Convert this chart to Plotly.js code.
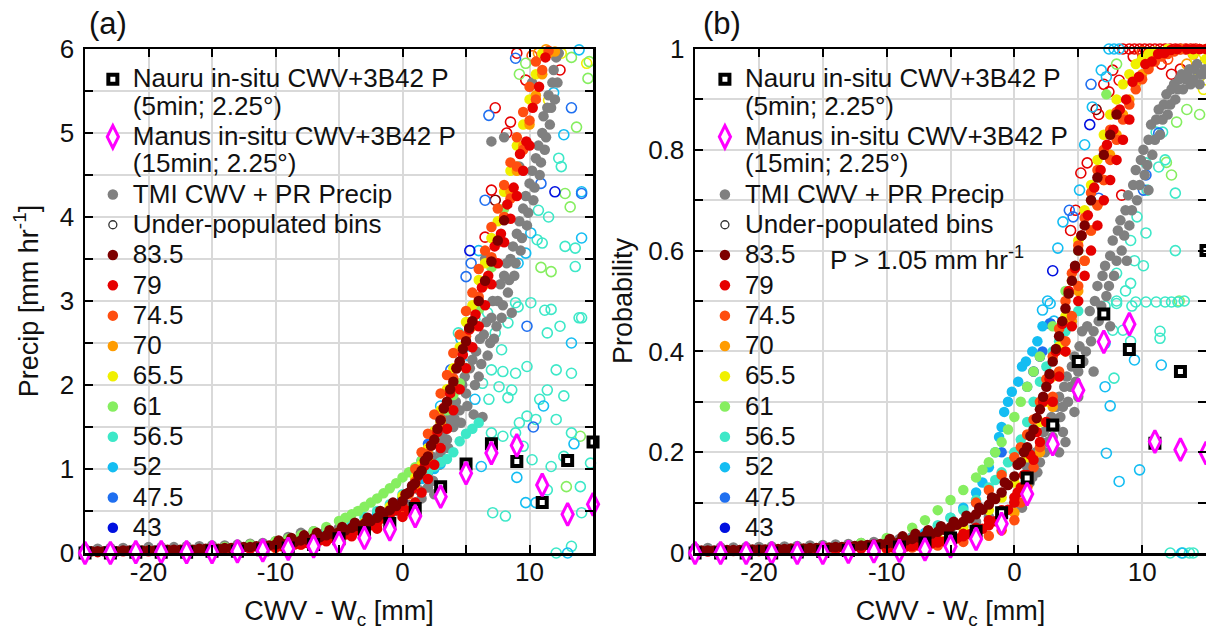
<!DOCTYPE html>
<html><head><meta charset="utf-8">
<script src="https://cdn.plot.ly/plotly-3.0.1.min.js"></script>
<style>html,body{margin:0;padding:0;background:#fff}#chart{width:1206px;height:630px}</style>
</head><body><div id="chart"></div>
<script>
// ---------------- labels ----------------
const binLabels = ['83.5','79','74.5','70','65.5','61','56.5','52','47.5','43'];
const nauruLabel = 'Nauru in-situ CWV+3B42 P';
const nauruSub = '(5min; 2.25°)';
const manusLabel = 'Manus in-situ CWV+3B42 P';
const manusSub = '(15min; 2.25°)';
const tmiLabel = 'TMI CWV + PR Precip';
const underLabel = 'Under-populated bins';
const xTickVals = [-20,-10,0,10];
const xTickText = ['-20','-10','0','10'];
const pTickVals = [0,1,2,3,4,5,6];
const pTickText = ['0','1','2','3','4','5','6'];
const qTickVals = [0,0.2,0.4,0.6,0.8,1];
const qTickText = ['0','0.2','0.4','0.6','0.8','1'];

// ---------------- in-situ (Nauru / Manus) ----------------
const insituX = [-25,-23,-21,-19,-17,-15,-13,-11,-9,-7,-5,-3,-1,1,3,5,7,9,11,13,15];
const nauruPrecip = [0,0,0.01,0.01,0.01,0.02,0.02,0.04,0.06,0.1,0.17,0.24,0.35,0.53,0.79,1.06,1.3,1.09,0.6,1.1,1.32];
const manusPrecip = [0,0,0.01,0.01,0.01,0.01,0.02,0.03,0.05,0.08,0.12,0.18,0.28,0.44,0.67,0.95,1.19,1.28,0.81,0.46,0.58];
const nauruProb = [0,0,0,0,0.002,0.003,0.005,0.008,0.012,0.02,0.03,0.043,0.08,0.149,0.254,0.38,0.474,0.404,0.218,0.36,0.6];
const manusProb = [0,0,0,0,0,0,0.002,0.003,0.004,0.007,0.013,0.028,0.058,0.117,0.216,0.323,0.419,0.454,0.221,0.205,0.198];

// ---------------- bin 83.5 (shared CWV-Wc values) ----------------
const x835 = [-25,-24.5,-24,-23.5,-23,-22.5,-22,-21.5,-21,-20.5,-20,-19.5,-19,-18.5,-18,-17.5,-17,-16.5,-16,-15.5,-15,-14.5,-14,-13.5,-13,-12.5,-12,-11.5,-11,-10.5,-10,
 -9.5,-9,-8.5,-8,-7.5,-7,-6.5,-6,-5.5,-5,-4.5,-4,-3.5,-3,-2.5,-2,-1.5,-1,-0.5,0,
 0.5,1,1.5,2,2.5,3,3.5,4,4.5,5,5.5,6,6.5,7,7.5,8,
 -9.75,-8.75,-7.75,-6.75,-5.75,-4.75,-3.75,-2.75,-1.75,-0.75,0.25,0.75,1.25,1.75,2.25,2.75,3.25,3.75,4.25,4.75,5.25];
const precip835 = [0.02,0.02,0.02,0.02,0.03,0.02,0.03,0.03,0.03,0.03,0.03,0.03,0.03,0.04,0.04,0.04,0.04,0.04,0.05,0.05,0.05,0.05,0.06,0.06,0.06,0.07,0.07,0.08,0.08,0.09,0.1,
 0.11,0.12,0.13,0.15,0.16,0.18,0.19,0.21,0.23,0.25,0.27,0.3,0.32,0.35,0.38,0.42,0.46,0.51,0.56,0.62,
 0.72,0.83,0.98,1.15,1.35,1.58,1.8,2.04,2.28,2.52,2.76,3.0,3.24,3.47,3.72,3.96,
 0.15,0.18,0.21,0.24,0.27,0.31,0.36,0.42,0.5,0.6,0.7,0.8,0.93,1.1,1.28,1.48,1.72,1.95,2.2,2.43,2.68];
const prob835 = [0.005,0.005,0.005,0.005,0.006,0.006,0.006,0.006,0.007,0.007,0.007,0.007,0.008,0.008,0.008,0.009,0.009,0.009,0.01,0.01,0.011,0.011,0.012,0.012,0.013,0.014,0.015,0.016,0.017,0.018,0.019,
 0.02,0.022,0.025,0.028,0.031,0.034,0.038,0.042,0.046,0.051,0.056,0.062,0.069,0.077,0.086,0.096,0.107,0.12,0.135,0.152,
 0.18,0.21,0.245,0.285,0.33,0.38,0.43,0.485,0.54,0.6,0.65,0.7,0.745,0.79,0.83,0.87,
 0.028,0.033,0.038,0.045,0.053,0.062,0.074,0.09,0.11,0.14,0.175,0.2,0.232,0.268,0.31,0.355,0.405,0.46,0.515,0.57,0.63];

// ---------------- panel (a): precip, other bins ----------------
const pX79 = [-25,-24,-23,-22,-21,-20,-19,-18,-17,-16,-15,-14,-13,-12,-11,
 -10,-9.5,-9,-8.5,-8,-7.5,-7,-6.5,-6,-5.5,-5,-4.5,-4,-3.5,-3,-2.5,-2,-1.5,-1,-0.5,0,
 0.25,0.75,1.25,1.75,2.25,2.75,3.25,3.75,4.25,4.75,5.25,5.75,6.25,6.75,7.25,7.75,8.25,8.75,9.25,9.75,10.25,10.75,11.25,
 -8,-6,-4,-3,-2,-1,0,0.5,1,1.5,2,2.5,3,3.5,4,4.5,5,5.5,6,6.5,7,7.5,8,8.5,9,9.5,10];
const pY79 = [0.01,0.01,0.02,0.02,0.02,0.02,0.02,0.03,0.03,0.03,0.03,0.04,0.04,0.05,0.06,
 0.07,0.08,0.09,0.1,0.11,0.12,0.13,0.15,0.16,0.18,0.2,0.22,0.24,0.27,0.3,0.33,0.37,0.41,0.46,0.51,0.56,
 0.7,0.76,0.92,1.04,1.28,1.44,1.73,1.9,2.2,2.36,2.66,2.84,3.16,3.3,3.65,3.8,4.15,4.35,4.75,4.9,5.3,5.55,5.9,
 0.1,0.14,0.2,0.24,0.29,0.35,0.43,0.5,0.6,0.72,0.88,1.05,1.25,1.48,1.7,1.95,2.2,2.45,2.7,2.95,3.2,3.45,3.7,3.98,4.25,4.55,4.85];
const pX745 = [-25,-23,-21,-19,-17,-15,-13,-11,-10,-9,-8,-7,-6,-5,-4,-3,-2,-1,0,
 0.5,1,1.5,2,2.5,3,3.5,4,4.5,5,5.5,6,6.5,7,7.5,8,8.5,9,9.5,10,10.5,11,11.5,
 1,1.5,2,2.5,3,3.5,4,4.5,5,5.5,6,6.5,7,7.5,8,8.5,9,9.5,10,10.5];
const pY745 = [0.01,0.02,0.02,0.02,0.03,0.03,0.04,0.05,0.06,0.08,0.1,0.12,0.15,0.18,0.22,0.27,0.33,0.41,0.52,
 0.7,0.85,0.97,1.18,1.33,1.6,1.78,2.08,2.27,2.58,2.76,3.05,3.24,3.52,3.7,4.0,4.22,4.6,4.8,5.15,5.4,5.75,5.98,
 1.0,1.2,1.42,1.65,1.9,2.12,2.38,2.6,2.88,3.1,3.38,3.6,3.88,4.1,4.38,4.65,4.95,5.25,5.55,5.85];
const pX70 = [-20,-15,-10,-6,-3,0,1,2,3,3.5,4,4.5,5,5.5,6,6.5,7,7.5,8,8.5,9,9.5,10,10.5,11,11.5,12];
const pY70 = [0.03,0.05,0.08,0.16,0.28,0.55,0.78,1.1,1.55,1.75,2.0,2.25,2.5,2.7,3.0,3.2,3.5,3.72,4.0,4.3,4.55,4.85,5.1,5.45,5.7,5.95,5.97];
const pX655 = [-15,-10,-7,-5,-3,-1,0,1,1.5,2,2.5,3,3.5,4,4.5,5,5.5,6,6.5,7,7.5,8,8.5,9,9.5,10,10.5,11];
const pY655 = [0.05,0.1,0.17,0.25,0.36,0.55,0.68,0.9,1.05,1.25,1.45,1.7,1.95,2.2,2.45,2.75,2.95,3.25,3.45,3.75,3.95,4.3,4.55,4.85,5.1,5.4,5.7,5.95];
const pX61 = [-14,-12,-10,-9,-8,-7,-6,-5,-4.5,-4,-3.5,-3,-2.5,-2,-1.5,-1,-0.5,0,0.5,1,1.5,2,2.5,3,3.5,4,4.5,5,6,7,8,9];
const pY61 = [0.07,0.1,0.14,0.17,0.21,0.26,0.31,0.38,0.42,0.46,0.5,0.55,0.6,0.65,0.71,0.77,0.83,0.9,0.96,1.02,1.1,1.22,1.38,1.55,1.7,1.88,2.02,2.2,2.9,3.4,4.1,4.6];
const pX565 = [-8,-6,-4,-3,-2,-1,0,1,2,2.5,3,3.5,4,4.5,5,5.5,6];
const pY565 = [0.16,0.25,0.36,0.43,0.5,0.58,0.7,0.84,0.97,1.03,1.08,1.12,1.2,1.33,1.42,1.48,1.55];
const pX52 = [-6,-4,-2,0,1,1.5,2,2.5,3];
const pY52 = [0.22,0.33,0.48,0.66,0.8,0.88,0.96,1.0,1.06];
const pX475 = [-2,0,1.5,2];
const pY475 = [0.46,0.64,1.1,1.3];
const pX43 = [0,1];
const pY43 = [0.63,0.86];
const pXgray = [-25,-24,-23,-22,-21,-20,-19,-18,-17,-16,-15,-14,-13,-12,-11,-10,-9,-8,-7,-6,-5,-4,-3,-2,-1,
 -0.5,0,0.5,1,1.3,1.5,1.8,2,2.2,2.4,2.6,2.8,3,3.2,3.5,3.7,4,4.2,4.5,4.7,5,5.3,5.6,5.8,
 6,6.3,6.4,6.7,7,7.2,7.5,7.8,8,8.3,8.5,8.6,8.8,9,9.3,9.5,9.8,10,10.3,10.5,
 10.8,11,11.2,11.4,11.6,11.8,12,12.1,7,8,9.2,10.2,6.5,
 2.0,2.3,2.5,2.9,3.1,3.4,3.6,3.9,4.1,4.4,4.6,4.9,5.1,5.5,5.7,6.1,6.2,6.6,6.9,7.1,7.4,
 7.7,7.9,8.2,8.4,8.7,8.9,9.2,9.4,9.7,9.9,10.2,10.4,10.7,10.9,11.1,11.3,11.5,11.7,11.9,12.2,12.3];
const pYgray = [0.05,0.05,0.06,0.06,0.06,0.07,0.07,0.07,0.08,0.08,0.09,0.09,0.1,0.11,0.12,0.14,0.19,0.24,0.26,0.28,0.3,0.33,0.37,0.42,0.46,
 0.5,0.52,0.57,0.6,0.75,0.65,0.9,0.78,1.0,0.86,1.1,1.3,1.2,1.45,1.35,1.6,1.5,1.8,1.7,2.0,1.9,2.2,1.65,2.4,
 2.1,1.62,2.6,2.35,2.8,2.55,3.0,2.8,3.3,3.1,3.5,2.86,3.3,3.8,3.6,4.1,3.9,4.4,4.2,4.7,
 4.5,5.0,4.8,5.3,5.1,5.6,5.4,5.9,4.9,4.95,4.6,5.6,3.5,
 0.95,1.15,0.7,1.05,1.35,1.55,1.25,1.7,1.6,1.95,1.55,2.1,1.75,2.3,2.0,2.55,2.25,2.75,2.5,3.0,2.7,
 3.2,2.95,3.45,3.25,3.65,3.45,3.95,3.75,4.25,4.05,4.55,4.35,4.85,4.65,5.2,4.95,5.45,5.3,5.75,5.6,5.95];
// under-populated bins, panel (a)
const hpX835 = [7.3];
const hpY835 = [4.2];
const hpX79 = [9.7,7.3,8.5,12.4,7.0,6.5,8.2,9.0];
const hpY79 = [5.63,5.3,5.13,5.75,4.32,3.76,5.0,5.95];
const hpX745 = [10.2];
const hpY745 = [5.92];
const hpX70 = [11.3,10.7];
const hpY70 = [5.99,5.95];
const hpX655 = [14.5,11.5,12.5];
const hpY655 = [5.83,5.39,5.95];
const hpX61 = [14.0,12.9,9.7,13.3,14.6,13.7,13.2,12.8,11.7,10.9,14.7,9.2];
const hpY61 = [1.39,0.79,5.83,5.9,5.65,5.07,4.12,4.28,3.35,3.4,5.85,5.7];
const hpX565 = [4.4,5.7,6.7,7.3,8.3,8.9,11.7,12.4,14.1,11.4,7.8,7.0,7.9,8.9,9.8,6.3,7.6,8.6,6.8,8.3,
 10.8,12.1,13.3,12.7,9.8,9.2,10.5,11.4,7.0,7.9,8.9,9.5,12.1,13.3,12.7,11.7,10.2,14.8,7.1,8.1,
 14.0,12.1,13.3,14.1,11.4,12.3,12.5,10.7,11.5,10.6,11.0,12.8,13.6,13.6,10.1,9.1,11.2,13.9];
const hpY565 = [2.62,2.78,2.86,2.62,2.74,2.98,2.9,2.7,2.8,2.62,2.42,2.18,2.16,2.14,2.22,2.02,1.98,1.94,1.83,1.85,
 1.83,2.18,2.14,1.87,1.63,1.55,1.59,1.94,1.43,1.39,1.43,1.27,1.59,1.43,1.15,1.03,1.11,1.07,0.48,0.44,
 0.79,0.0,0.08,0.48,0.75,4.7,4.6,4.08,4.0,3.73,3.69,3.65,3.63,3.41,2.98,2.93,2.89,2.8];
const hpX52 = [3.0,2.9,5.7,6.2,9.7,13.3,11.1,13.0,13.9,11.9,12.7,14.1,10.1,9.7,14.1,9.1,4.6,5.2,6.0,9.0,10.5,13.5];
const hpY52 = [1.75,1.63,1.83,1.03,0.6,2.5,1.75,0.0,5.99,5.48,4.98,4.3,3.81,3.57,3.75,3.45,2.55,2.35,3.6,0.9,0.6,1.3];
const hpX475 = [9.8,10.3,3.8,8.9,6.8,13.3,6.5,10.9,5.4,5.0,14.1,3.5,2.7];
const hpY475 = [2.7,1.5,2.18,5.89,5.21,5.3,4.2,4.4,3.45,3.29,4.28,1.7,1.45];
const hpX43 = [5.3,12.0];
const hpY43 = [3.6,4.3];

// ---------------- panel (b): probability, other bins ----------------
const qX79 = [-25,-24,-23,-22,-21,-20,-19,-18,-17,-16,-15,-14,-13,-12,-11,
 -10,-9.5,-9,-8.5,-8,-7.5,-7,-6.5,-6,-5.5,-5,-4.5,-4,-3.5,-3,-2.5,-2,-1.5,-1,-0.5,0,
 0.25,0.75,1.25,1.75,2.25,2.75,3.25,3.75,4.25,4.75,5.25,5.75,6.25,6.75,7.25,7.75,8.25,8.75,9.25,9.75,10.25,10.75,11.25,11.75,12.25,12.75,
 13.5,14,14.5,15,
 -6,-5,-4,-3,-2,-1,0,0.5,1,1.5,2,2.5,3,3.5,4,4.5,5,5.5,6,6.5,7,7.5,8,8.5,9];
const qY79 = [0.003,0.003,0.003,0.004,0.004,0.004,0.005,0.005,0.005,0.006,0.006,0.007,0.008,0.009,0.01,
 0.01,0.011,0.012,0.013,0.014,0.015,0.017,0.019,0.021,0.023,0.026,0.029,0.033,0.037,0.042,0.048,0.055,0.063,0.073,0.086,0.1,
 0.12,0.155,0.195,0.24,0.3,0.345,0.4,0.455,0.52,0.565,0.63,0.67,0.725,0.76,0.81,0.84,0.88,0.9,0.935,0.945,0.97,0.975,0.99,0.992,0.998,1.0,
 1,1,1,1,
 0.025,0.03,0.038,0.05,0.065,0.085,0.11,0.13,0.155,0.185,0.22,0.26,0.3,0.35,0.4,0.45,0.5,0.55,0.6,0.65,0.7,0.74,0.78,0.82,0.86];
const qX745 = [-25,-23,-21,-19,-17,-15,-13,-11,-10,-9,-8,-7,-6,-5,-4,-3,-2,-1,0,
 0.5,1,1.5,2,2.5,3,3.5,4,4.5,5,5.5,6,6.5,7,7.5,8,8.5,9,9.5,10,10.5,11,11.5,12,12.5,13,13.5,14,14.5,
 -3,-2,-1,0,0.5,1,1.5,2,2.5,3,3.5,4,4.5,5,5.5,6,6.5,7,7.5,8];
const qY745 = [0.003,0.004,0.004,0.005,0.006,0.007,0.008,0.01,0.008,0.009,0.011,0.013,0.015,0.018,0.022,0.027,0.034,0.045,0.065,
 0.1,0.13,0.17,0.21,0.26,0.31,0.36,0.42,0.47,0.53,0.58,0.64,0.69,0.74,0.78,0.82,0.86,0.89,0.92,0.94,0.96,0.975,0.985,0.99,0.995,1,1,1,1,
 0.1,0.125,0.155,0.19,0.21,0.235,0.265,0.3,0.345,0.39,0.445,0.5,0.555,0.61,0.665,0.715,0.76,0.8,0.84,0.875];
const qX70 = [-20,-15,-10,-6,-3,-1,0,1,2,3,4,4.5,5,5.5,6,6.5,7,7.5,8,8.5,9,9.5,10,10.5,11,11.5,12,12.5,13,13.5,14,14.5,15];
const qY70 = [0.004,0.006,0.01,0.02,0.035,0.06,0.08,0.13,0.2,0.29,0.4,0.46,0.52,0.58,0.64,0.69,0.74,0.79,0.83,0.87,0.9,0.93,0.95,0.965,0.978,0.988,0.994,0.997,1,1,1,1,1];
const qX655 = [-15,-10,-6,-4,-2,-1,0,1,2,2.5,3,3.5,4,4.5,5,5.5,6,6.5,7,7.5,8,8.5,9,9.5,10,10.5,11,12,13,14,15];
const qY655 = [0.006,0.012,0.03,0.05,0.085,0.11,0.14,0.19,0.26,0.3,0.35,0.41,0.47,0.54,0.62,0.68,0.73,0.78,0.83,0.87,0.9,0.93,0.95,0.97,0.98,0.99,0.995,1,1,0.99,0.98];
const qX61 = [-12,-10,-8,-7,-6,-5,-4,-3,-2.5,-2,-1.5,-1,-0.5,0,0.5,1,1.5,2,3,4,5,6,7.2];
const qY61 = [0.02,0.03,0.05,0.065,0.085,0.105,0.125,0.15,0.165,0.18,0.2,0.22,0.245,0.27,0.3,0.33,0.36,0.39,0.45,0.52,0.6,0.7,0.91];
const qX565 = [-10,-8,-6,-5,-4,-3,-2,-1.5,-1,-0.5,0,0.5,1,1.5,2,2.5,3,3.5,4,4.5,5];
const qY565 = [0.015,0.03,0.055,0.07,0.085,0.105,0.13,0.145,0.16,0.18,0.2,0.225,0.26,0.3,0.34,0.37,0.4,0.42,0.44,0.46,0.48];
const qX52 = [-7,-5,-4,-3,-2.5,-2,-1.5,-1.2,-1,-0.8,-0.5,-0.2,0.3,0.6,0.9,1.4,1.8,2.2];
const qY52 = [0.04,0.07,0.09,0.12,0.14,0.17,0.2,0.23,0.25,0.28,0.3,0.32,0.34,0.37,0.38,0.4,0.42,0.45];
const qX475 = [-3,-1,1,2.2,2.8];
const qY475 = [0.1,0.2,0.33,0.4,0.455];
const qX43 = [1.5,2.0];
const qY43 = [0.36,0.39];
const qXgray = [-25,-24,-23,-22,-21,-20,-19,-18,-17,-16,-15,-14,-13,-12,-11,-10,
 -9,-8,-7,-6,-5,-4,-3,-2,-1,0,
 -0.3,0.3,0.9,0.6,
 1.2,1.5,1.8,2.1,2.4,2.7,3.0,3.3,3.6,3.9,
 4.2,4.5,4.8,5.1,5.4,5.7,6.0,6.3,6.6,6.9,
 7.2,7.5,7.8,8.1,8.4,8.7,9.0,9.3,9.6,9.9,
 10.2,10.5,10.8,11.1,11.4,11.7,12.0,12.3,12.6,12.9,
 13.2,13.5,13.8,14.1,14.5,14.8,
 3.5,4.0,4.7,3.8,5.0,6.2,7.5,8.8,10.5,
 1.0,1.4,1.7,2.0,2.3,2.6,2.9,3.2,3.5,3.8,4.1,4.4,4.7,5.0,5.3,5.6,5.9,6.2,6.5,6.8,7.1,7.4,7.7,8.0,
 8.3,8.6,8.9,9.2,9.5,9.8,10.1,10.4,10.7,11.0,11.3,11.6,11.9,12.2,12.5,12.8,13.1,13.4,13.7,14.0,14.3,14.6,14.9];
const qYgray = [0.01,0.01,0.011,0.011,0.012,0.012,0.013,0.013,0.014,0.015,0.016,0.017,0.018,0.02,0.022,0.025,
 0.028,0.032,0.036,0.041,0.047,0.054,0.062,0.072,0.085,0.1,
 0.085,0.1,0.12,0.09,
 0.14,0.18,0.16,0.22,0.2,0.25,0.23,0.29,0.27,0.33,
 0.3,0.37,0.34,0.41,0.38,0.45,0.42,0.5,0.46,0.55,
 0.51,0.59,0.55,0.64,0.6,0.68,0.65,0.73,0.7,0.78,
 0.75,0.82,0.79,0.86,0.83,0.89,0.87,0.92,0.9,0.94,
 0.92,0.95,0.93,0.96,0.93,0.95,
 0.2,0.22,0.28,0.24,0.31,0.36,0.45,0.58,0.72,
 0.17,0.15,0.2,0.18,0.24,0.22,0.27,0.25,0.31,0.29,0.35,0.33,0.39,0.36,0.44,0.4,0.48,0.44,0.53,0.49,0.57,0.53,0.62,0.58,
 0.66,0.63,0.71,0.68,0.76,0.73,0.8,0.77,0.85,0.82,0.88,0.86,0.91,0.89,0.93,0.92,0.95,0.94,0.96,0.94,0.97,0.95,0.96];
// under-populated bins, panel (b)
const hqX835 = [6.4];
const hqY835 = [0.88];
const hqX79 = [8.5,9,9.4,9.8,10.2,10.6,11,11.4,11.8,12.2,12.6,13,13.4,13.8,14.2,
 7.7,8.2,7.4,5.7,5.2,4.8,4.4,8.4,7.0,6.6,11.5,12.3,13.0,9.3,10.5];
const hqY79 = [1,1,1,1,1,1,1,1,1,1,1,1,1,1,1,
 0.958,0.938,0.915,0.774,0.754,0.68,0.64,0.71,0.93,0.87,0.97,0.95,0.96,0.985,0.99];
const hqX745 = [10.0,12.0];
const hqY745 = [0.995,0.98];
const hqX70 = [13.5,14.0];
const hqY70 = [0.97,0.99];
const hqX655 = [14.5,14.2,14.8];
const hqY655 = [0.945,0.98,0.92];
const hqX61 = [12.7,11.9,12.3,12.9,8.0,13.5,14.5];
const hqY61 = [0.855,0.775,0.75,0.5,0.97,0.88,0.87];
const hqX565 = [11.1,11.6,10.3,11.3,11.8,12.6,10.4,9.6,10.3,9.1,9.4,10.1,8.0,9.1,8.7,11.1,11.8,12.3,12.8,10.3,
 9.5,8.0,12.6,7.1,8.0,9.2,11.4,11.4,7.8,8.5,9.1,7.7,12.2,13.2,13.7,14.0,13.3];
const hqY565 = [0.835,0.835,0.774,0.766,0.78,0.714,0.72,0.667,0.635,0.62,0.58,0.57,0.555,0.535,0.52,0.498,0.498,0.498,0.498,0.498,
 0.498,0.5,0.6,0.49,0.495,0.49,0.44,0.426,0.347,0.442,0.42,0.442,0,0,0,0,0.5];
const hqX52 = [7.4,7.8,8.2,6.8,7.2,6.1,5.5,5.1,3.8,3.4,2.6,2.2,2.8,3.1,11.5,7.1,7.5,7.2,8.2,9.8,9.4,7.1,13.1];
const hqY52 = [1,1,1,0.958,0.945,0.885,0.81,0.72,0.657,0.605,0.5,0.482,0.495,0.46,0.373,0.33,0.292,0.198,0.142,0.165,0.383,0.416,0];
const hqX475 = [10.3,10.1,6.6,4.6,11.3,4.3,2.8,6.0];
const hqY475 = [0.75,0.72,0.704,0.667,0.833,0.68,0.455,0.93];
const hqX43 = [3.0,5.9];
const hqY43 = [0.56,0.85];

// ---------------- styles ----------------
const binColors = ['#7d0000','#e60000','#ff4e10','#ff9c00','#f0f000','#86ee60','#3de8c8','#14bdf2','#1f6ff0','#0010e0'];
const FONT = 'Liberation Sans, Arial, Helvetica, sans-serif';
const LEGEND_TXT = 26;
const big = s => '<span style="font-size:' + LEGEND_TXT + 'px">' + s + '</span>';

function buildPanel(ax, legendId, d) {
  const xa = ax === 1 ? 'x' : 'x2', ya = ax === 1 ? 'y' : 'y2';
  const base = {type:'scatter', mode:'markers', xaxis:xa, yaxis:ya, legend:legendId, cliponaxis:false, hoverinfo:'skip'};
  const tr = [];
  d.hollow.forEach((h, i) => {
    tr.push(Object.assign({}, base, {x:h[0], y:h[1], showlegend:false,
      marker:{symbol:'circle-open', size:10, color:binColors[i], line:{width:1.6, color:binColors[i]}}}));
  });
  tr.push(Object.assign({}, base, {x:d.gray[0], y:d.gray[1], name:big(tmiLabel), legendrank:3,
    marker:{size:10.5, color:'#808080'}}));
  for (let i = binLabels.length - 1; i >= 0; i--) {
    tr.push(Object.assign({}, base, {x:d.filled[i][0], y:d.filled[i][1], name:big(binLabels[i]), legendrank:5 + i,
      marker:{size:10.5, color:binColors[i]}}));
  }
  tr.push(Object.assign({}, base, {x:[null], y:[null], name:big(underLabel), legendrank:4,
    marker:{symbol:'circle-open', size:8, color:'#333', line:{width:1.3, color:'#333'}}}));
  tr.push(Object.assign({}, base, {x:insituX, y:d.nauru, name:big(nauruLabel) + '<br>' + big(nauruSub), legendrank:1,
    marker:{symbol:'square', size:9, color:'#fff', line:{color:'#000', width:4}}}));
  tr.push(Object.assign({}, base, {x:insituX, y:d.manus, name:big(manusLabel) + '<br>' + big(manusSub), legendrank:2,
    marker:{symbol:'diamond-tall', size:16, color:'#fff', line:{color:'#ff00ff', width:3}}}));
  return tr;
}

const traces = [].concat(
  buildPanel(1, 'legend', {
    hollow:[[hpX835,hpY835],[hpX79,hpY79],[hpX745,hpY745],[hpX70,hpY70],[hpX655,hpY655],[hpX61,hpY61],[hpX565,hpY565],[hpX52,hpY52],[hpX475,hpY475],[hpX43,hpY43]],
    gray:[pXgray,pYgray],
    filled:[[x835,precip835],[pX79,pY79],[pX745,pY745],[pX70,pY70],[pX655,pY655],[pX61,pY61],[pX565,pY565],[pX52,pY52],[pX475,pY475],[pX43,pY43]],
    nauru:nauruPrecip, manus:manusPrecip}),
  buildPanel(2, 'legend2', {
    hollow:[[hqX835,hqY835],[hqX79,hqY79],[hqX745,hqY745],[hqX70,hqY70],[hqX655,hqY655],[hqX61,hqY61],[hqX565,hqY565],[hqX52,hqY52],[hqX475,hqY475],[hqX43,hqY43]],
    gray:[qXgray,qYgray],
    filled:[[x835,prob835],[qX79,qY79],[qX745,qY745],[qX70,qY70],[qX655,qY655],[qX61,qY61],[qX565,qY565],[qX52,qY52],[qX475,qY475],[qX43,qY43]],
    nauru:nauruProb, manus:manusProb})
);

const GRID = '#d9d9d9';
const axisCommon = {
  ticks:'inside', ticklen:8, tickwidth:2, tickcolor:'#000',
  showline:true, linewidth:2.5, linecolor:'#000', mirror:'allticks',
  showgrid:true, gridcolor:GRID, gridwidth:2, zeroline:false,
  tickfont:{family:FONT, size:26, color:'#111'}, automargin:false, fixedrange:true
};
const minorTicks = d => ({dtick:d, tick0:0, ticks:'inside', ticklen:8, tickwidth:2, tickcolor:'#000',
  showgrid:true, gridcolor:GRID, gridwidth:2});
const xTitle = {text:'CWV - W<sub>c</sub> [mm]', font:{family:FONT, size:27, color:'#111'}, standoff:20};

const legendCommon = {
  xanchor:'left', yanchor:'top', y:0.98, bgcolor:'rgba(0,0,0,0)', borderwidth:0,
  font:{family:FONT, size:21, color:'#111'}, valign:'top', traceorder:'normal', itemwidth:30
};

const layout = {
  width:1206, height:630,
  margin:{l:85, r:0, t:49, b:77},
  paper_bgcolor:'#fff', plot_bgcolor:'#fff',
  font:{family:FONT, color:'#111'},
  hovermode:false,
  showlegend:true,
  xaxis:Object.assign({}, axisCommon, {domain:[0,0.4532], range:[-25,15], anchor:'y',
    tickmode:'array', tickvals:xTickVals, ticktext:xTickText, ticklabelstandoff:-6, minor:minorTicks(5), title:xTitle}),
  yaxis:Object.assign({}, axisCommon, {domain:[0,1], range:[0,6], anchor:'x',
    tickmode:'array', tickvals:pTickVals, ticktext:pTickText, ticklabelstandoff:3, minor:minorTicks(0.5),
    title:{text:'Precip [mm hr<sup>-1</sup>]', font:{family:FONT, size:27, color:'#111'}, standoff:14}}),
  xaxis2:Object.assign({}, axisCommon, {domain:[0.5442,1], range:[-25,15], anchor:'y2',
    tickmode:'array', tickvals:xTickVals, ticktext:xTickText, ticklabelstandoff:-6, minor:minorTicks(5), title:xTitle}),
  yaxis2:Object.assign({}, axisCommon, {domain:[0,1], range:[0,1], anchor:'x2',
    tickmode:'array', tickvals:qTickVals, ticktext:qTickText, ticklabelstandoff:3, minor:minorTicks(0.1),
    title:{text:'Probability', font:{family:FONT, size:27, color:'#111'}, standoff:8}}),
  legend:Object.assign({}, legendCommon, {x:0.007}),
  legend2:Object.assign({}, legendCommon, {x:0.553}),
  annotations:[
    {text:'(a)', xref:'paper', yref:'paper', x:0.002, y:1.05, xanchor:'left', yanchor:'middle', showarrow:false,
     font:{family:FONT, size:31, color:'#111'}},
    {text:'(b)', xref:'paper', yref:'paper', x:0.5495, y:1.05, xanchor:'left', yanchor:'middle', showarrow:false,
     font:{family:FONT, size:31, color:'#111'}},
    {text:'P > 1.05 mm hr<sup>-1</sup>', xref:'paper', yref:'paper', x:0.6628, y:0.5853, xanchor:'left', yanchor:'middle', showarrow:false,
     font:{family:FONT, size:26, color:'#111'}}
  ]
};

Plotly.newPlot('chart', traces, layout, {staticPlot:true, displayModeBar:false});
</script></body></html>
